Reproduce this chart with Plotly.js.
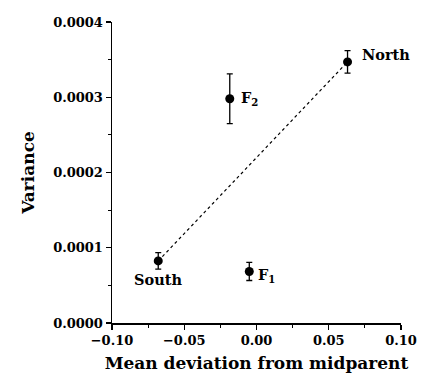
<!DOCTYPE html>
<html><head><meta charset="utf-8">
<script src="https://cdn.plot.ly/plotly-3.0.1.min.js"></script>
<style>body{margin:0;background:#fff}#c{width:425px;height:382px}</style>
</head><body><div id="c"></div>
<script>
const labels = ["South", "North", "F<sub>2</sub>", "F<sub>1</sub>"];
const meanDev = [-0.068, 0.063, -0.0185, -0.005];
const variance = [0.0000825, 0.000347, 0.000298, 0.0000685];
const errPlus = [0.000011, 0.000015, 0.000033, 0.000012];
const errMinus = [0.000011, 0.000015, 0.000033, 0.000012];
const labelDx = [0, 38, 20, 17];
const labelDy = [-19, 7, 0, -4];

const font = {family: "DejaVu Serif", size: 13, color: "#000", weight: "bold"};

const traces = [
  {x: [meanDev[0], meanDev[1]], y: [variance[0], variance[1]], mode: "lines",
   line: {color: "#000", width: 1.2, dash: "dot"}, hoverinfo: "skip"},
  {x: meanDev, y: variance, mode: "markers",
   marker: {color: "#000", size: 9},
   error_y: {type: "data", symmetric: false, array: errPlus, arrayminus: errMinus,
             color: "#000", thickness: 1.3, width: 3}}
];

const annotations = labels.map((t, i) => ({
  x: meanDev[i], y: variance[i], text: t, showarrow: false,
  xshift: labelDx[i], yshift: labelDy[i],
  font: {family: "DejaVu Serif", size: 14.5, color: "#000", weight: "bold"}
}));

const layout = {
  width: 425, height: 382,
  margin: {l: 112, r: 24, t: 22, b: 59},
  paper_bgcolor: "#fff", plot_bgcolor: "#fff",
  showlegend: false,
  font: font,
  xaxis: {range: [-0.1, 0.1], tickvals: [-0.10, -0.05, 0.00, 0.05, 0.10],
          ticktext: ["\u22120.10", "\u22120.05", "0.00", "0.05", "0.10"],
          ticks: "outside", ticklen: 5, tickwidth: 1.2, tickcolor: "#000",
          showline: true, linecolor: "#000", linewidth: 1.5, showgrid: false, zeroline: false,
          minor: {dtick: 0.025, ticks: "outside", ticklen: 3, tickcolor: "#000"},
          title: {text: "Mean deviation from midparent", standoff: 10,
                  font: {family: "DejaVu Serif", size: 17, color: "#000", weight: "bold"}}},
  yaxis: {range: [0, 0.0004], tickvals: [0, 0.0001, 0.0002, 0.0003, 0.0004],
          ticktext: ["0.0000", "0.0001", "0.0002", "0.0003", "0.0004"],
          ticks: "outside", ticklen: 5, tickwidth: 1.2, tickcolor: "#000",
          showline: true, linecolor: "#000", linewidth: 1.5, showgrid: false, zeroline: false,
          minor: {dtick: 0.00005, ticks: "outside", ticklen: 3, tickcolor: "#000"},
          title: {text: "Variance", standoff: 14,
                  font: {family: "DejaVu Serif", size: 17, color: "#000", weight: "bold"}}},
  annotations: annotations
};

Plotly.newPlot("c", traces, layout, {displayModeBar: false, staticPlot: true});
</script>
</body></html>
